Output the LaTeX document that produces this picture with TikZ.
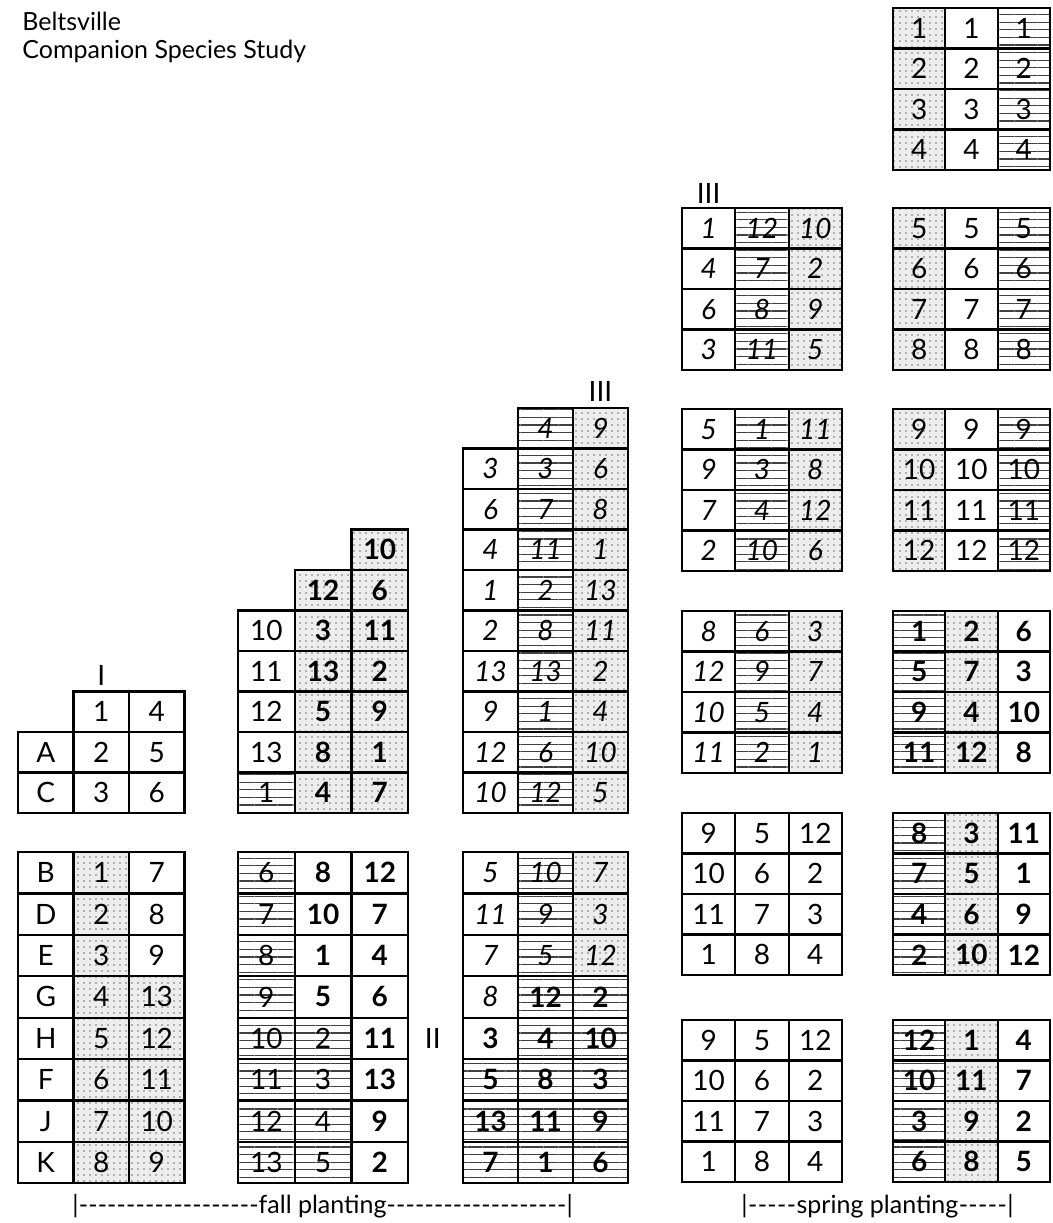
\documentclass[tikz,border=0pt]{standalone}
\usepackage{fontspec}
\setmainfont{Lato}
\usepackage{tikz}
\usetikzlibrary{patterns.meta, positioning}

\newcommand{\cellfont}{\fontsize{14}{16}\selectfont}
\tikzstyle{cell}    = [draw=black, line width=1.1pt, anchor=north west,
                       inner sep=0pt, outer sep=0pt]
\tikzstyle{stipple} = [fill=black!7,
                       postaction={pattern={Dots[distance=3pt,radius=0.45pt]},pattern color=black!55}]
\tikzstyle{hatch}   = [pattern={Lines[angle=0,distance=3.8pt,line width=0.55pt]},
                       pattern color=black!75]
\tikzstyle{numeral} = [font=\cellfont, inner sep=1pt]
\tikzstyle{note}    = [font=\fontsize{12.5}{14}\selectfont, anchor=base west, inner sep=0pt]
\tikzset{
  fk/.is choice, fk/w/.style={}, fk/d/.style={stipple}, fk/h/.style={hatch},
  tf/.is choice, tf/n/.style={font=\cellfont}, tf/i/.style={font=\cellfont\itshape},
  tf/b/.style={font=\cellfont\bfseries}
}

% #1 name, #2 left, #3 top, #4 column width, #5 row height, #6 rows of fill/face/text
\newcommand{\plottable}[6]{%
  \foreach \row [count=\rw from 0] in {#6}{
    \foreach \f/\w/\txt [count=\col from 0] in \row{
      \if\f x\else
        \path[fk/.expanded=\f] ({#2+#4*\col+1},{#3+#5*\rw+1}) rectangle ++({#4-2},{#5-2});
        \node[cell, tf/.expanded=\w, minimum width={#4*0.5pt}, minimum height={#5*0.5pt}]
          (#1-\rw-\col) at ({#2+#4*\col},{#3+#5*\rw}) {\txt};
      \fi
    }
  }
}

\begin{document}
\begin{tikzpicture}[x=0.5pt, y=-0.5pt]
  \useasboundingbox (0,0) rectangle (1053,1223);

  \node[note] (site) at (22,30) {Beltsville};
  \node[note] (study) at (22,58) {Companion Species Study};

  % fall planting
  \plottable{fIt}{18}{691.5}{55.5}{40.5}{{x/n/-,w/n/1,w/n/4},{w/n/A,w/n/2,w/n/5},{w/n/C,w/n/3,w/n/6}}
  \plottable{fIb}{18}{852}{55.5}{41.4}{{w/n/B,d/n/1,w/n/7},{w/n/D,d/n/2,w/n/8},{w/n/E,d/n/3,w/n/9},
    {w/n/G,d/n/4,d/n/13},{w/n/H,d/n/5,d/n/12},{w/n/F,d/n/6,d/n/11},{w/n/J,d/n/7,d/n/10},{w/n/K,d/n/8,d/n/9}}

  \plottable{fIIt}{238}{529.5}{56.7}{40.5}{{x/n/-,x/n/-,d/b/10},{x/n/-,d/b/12,d/b/6},{w/n/10,d/b/3,d/b/11},
    {w/n/11,d/b/13,d/b/2},{w/n/12,d/b/5,d/b/9},{w/n/13,d/b/8,d/b/1},{h/n/1,d/b/4,d/b/7}}
  \plottable{fIIb}{238}{852}{56.7}{41.4}{{h/n/6,w/b/8,w/b/12},{h/n/7,w/b/10,w/b/7},{h/n/8,w/b/1,w/b/4},
    {h/n/9,w/b/5,w/b/6},{h/n/10,h/n/2,w/b/11},{h/n/11,h/n/3,w/b/13},{h/n/12,h/n/4,w/b/9},{h/n/13,h/n/5,w/b/2}}

  \plottable{fIIIt}{463}{408}{55}{40.5}{{x/n/-,h/i/4,d/i/9},{w/i/3,h/i/3,d/i/6},{w/i/6,h/i/7,d/i/8},
    {w/i/4,h/i/11,d/i/1},{w/i/1,h/i/2,d/i/13},{w/i/2,h/i/8,d/i/11},{w/i/13,h/i/13,d/i/2},
    {w/i/9,h/i/1,d/i/4},{w/i/12,h/i/6,d/i/10},{w/i/10,h/i/12,d/i/5}}
  \plottable{fIIIb}{463}{852}{55}{41.4}{{w/i/5,h/i/10,d/i/7},{w/i/11,h/i/9,d/i/3},{w/i/7,h/i/5,d/i/12},
    {w/i/8,h/b/12,h/b/2},{w/b/3,h/b/4,h/b/10},{h/b/5,h/b/8,h/b/3},{h/b/13,h/b/11,h/b/9},{h/b/7,h/b/1,h/b/6}}

  \node[numeral, above=2pt of fIt-0-1] (blkI) {I};
  \node[numeral, left=10pt of fIIIb-4-0] (blkII) {II};
  \node[numeral, above=2pt of fIIIt-0-2] (blkIII) {III};

  % spring planting
  \plottable{sLa}{682}{208}{53.3}{40.5}{{w/i/1,h/i/12,d/i/10},{w/i/4,h/i/7,d/i/2},{w/i/6,h/i/8,d/i/9},{w/i/3,h/i/11,d/i/5}}
  \plottable{sLb}{682}{409}{53.3}{40.5}{{w/i/5,h/i/1,d/i/11},{w/i/9,h/i/3,d/i/8},{w/i/7,h/i/4,d/i/12},{w/i/2,h/i/10,d/i/6}}
  \plottable{sLc}{682}{611}{53.3}{40.5}{{w/i/8,h/i/6,d/i/3},{w/i/12,h/i/9,d/i/7},{w/i/10,h/i/5,d/i/4},{w/i/11,h/i/2,d/i/1}}
  \plottable{sLd}{682}{813}{53.3}{40.5}{{w/n/9,w/n/5,w/n/12},{w/n/10,w/n/6,w/n/2},{w/n/11,w/n/7,w/n/3},{w/n/1,w/n/8,w/n/4}}
  \plottable{sLe}{682}{1020}{53.3}{40.5}{{w/n/9,w/n/5,w/n/12},{w/n/10,w/n/6,w/n/2},{w/n/11,w/n/7,w/n/3},{w/n/1,w/n/8,w/n/4}}

  \plottable{sRa}{893}{8}{52.3}{40.5}{{d/n/1,w/n/1,h/n/1},{d/n/2,w/n/2,h/n/2},{d/n/3,w/n/3,h/n/3},{d/n/4,w/n/4,h/n/4}}
  \plottable{sRb}{893}{208}{52.3}{40.5}{{d/n/5,w/n/5,h/n/5},{d/n/6,w/n/6,h/n/6},{d/n/7,w/n/7,h/n/7},{d/n/8,w/n/8,h/n/8}}
  \plottable{sRc}{893}{409}{52.3}{40.5}{{d/n/9,w/n/9,h/n/9},{d/n/10,w/n/10,h/n/10},{d/n/11,w/n/11,h/n/11},{d/n/12,w/n/12,h/n/12}}
  \plottable{sRd}{893}{611}{52.3}{40.5}{{h/b/1,d/b/2,w/b/6},{h/b/5,d/b/7,w/b/3},{h/b/9,d/b/4,w/b/10},{h/b/11,d/b/12,w/b/8}}
  \plottable{sRe}{893}{813}{52.3}{40.5}{{h/b/8,d/b/3,w/b/11},{h/b/7,d/b/5,w/b/1},{h/b/4,d/b/6,w/b/9},{h/b/2,d/b/10,w/b/12}}
  \plottable{sRf}{893}{1020}{52.3}{40.5}{{h/b/12,d/b/1,w/b/4},{h/b/10,d/b/11,w/b/7},{h/b/3,d/b/9,w/b/2},{h/b/6,d/b/8,w/b/5}}

  \node[numeral, above=1pt of sLa-0-0] (blkIIIs) {III};

  \node[note] (fall) at (72,1213)
    {\hbox to 250pt{|\xleaders\hbox{-}\hfill fall planting\xleaders\hbox{-}\hfill|}};
  \node[note] (spring) at (741,1213)
    {\hbox to 136pt{|\xleaders\hbox{-}\hfill spring planting\xleaders\hbox{-}\hfill|}};

\end{tikzpicture}
\end{document}
